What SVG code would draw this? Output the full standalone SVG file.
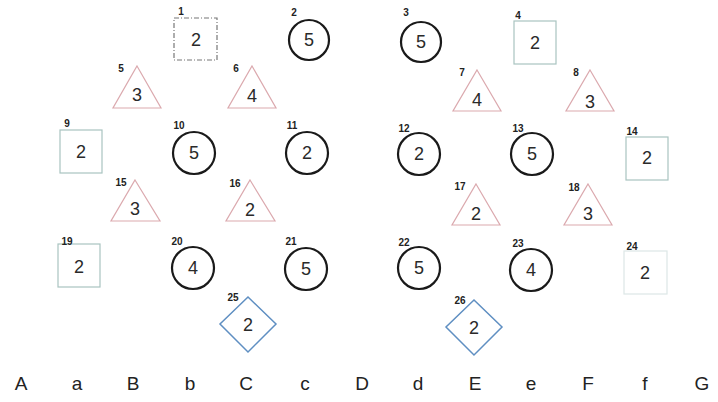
<svg xmlns="http://www.w3.org/2000/svg" width="718" height="402" viewBox="0 0 718 402">
<style>
.c{fill:none;stroke:#1a1a1a;stroke-width:2.2}
.s{fill:none;stroke:#a9c4c0;stroke-width:1.2}
.t{fill:none;stroke:#dba9ae;stroke-width:1.2}
.d{fill:none;stroke:#5f8fc2;stroke-width:1.5}
.v{font-family:"Liberation Sans",Arial,sans-serif;font-size:18px;fill:#2a2a2a;text-anchor:middle;dominant-baseline:central}
.l{font-family:"Liberation Sans",Arial,sans-serif;font-size:10px;font-weight:bold;fill:#222;text-anchor:middle}
.a{font-family:"Liberation Sans",Arial,sans-serif;font-size:19px;fill:#222;text-anchor:middle}
</style>
<rect width="718" height="402" fill="#fff"/>
<g id="connectors"/>
<g id="n1"><rect class="s" x="174" y="18" width="43" height="42" style="stroke:#777;stroke-dasharray:5,2,1,2"/><text class="v" x="196" y="40">2</text><text class="l" x="181" y="15">1</text></g>
<g id="n2"><circle class="c" cx="309" cy="40" r="20"/><text class="v" x="309" y="40">5</text><text class="l" x="294" y="16">2</text></g>
<g id="n3"><circle class="c" cx="421" cy="42" r="20"/><text class="v" x="421" y="42">5</text><text class="l" x="406" y="16">3</text></g>
<g id="n4"><rect class="s" x="514" y="21" width="42" height="43"/><text class="v" x="535" y="43">2</text><text class="l" x="518" y="19">4</text></g>
<g id="n5"><polygon class="t" points="137,66 161,108 113,108"/><text class="v" x="137" y="95">3</text><text class="l" x="121" y="72">5</text></g>
<g id="n6"><polygon class="t" points="252,66 276,108 228,108"/><text class="v" x="252" y="96">4</text><text class="l" x="236" y="72">6</text></g>
<g id="n7"><polygon class="t" points="477,70 501,111 453,111"/><text class="v" x="477" y="100">4</text><text class="l" x="462" y="76">7</text></g>
<g id="n8"><polygon class="t" points="590,70 614,111 566,111"/><text class="v" x="590" y="102">3</text><text class="l" x="576" y="76">8</text></g>
<g id="n9"><rect class="s" x="60" y="130" width="42" height="43"/><text class="v" x="81" y="152">2</text><text class="l" x="67" y="127">9</text></g>
<g id="n10"><circle class="c" cx="194" cy="153" r="21"/><text class="v" x="194" y="153">5</text><text class="l" x="179" y="129">10</text></g>
<g id="n11"><circle class="c" cx="307" cy="153" r="21"/><text class="v" x="307" y="153">2</text><text class="l" x="292" y="129">11</text></g>
<g id="n12"><circle class="c" cx="419" cy="154" r="21"/><text class="v" x="419" y="154">2</text><text class="l" x="404" y="132">12</text></g>
<g id="n13"><circle class="c" cx="532" cy="154" r="21"/><text class="v" x="532" y="154">5</text><text class="l" x="518" y="132">13</text></g>
<g id="n14"><rect class="s" x="626" y="137" width="42" height="43"/><text class="v" x="647" y="158">2</text><text class="l" x="632" y="135">14</text></g>
<g id="n15"><polygon class="t" points="135,180 160,221 111,221"/><text class="v" x="135" y="209">3</text><text class="l" x="121" y="186">15</text></g>
<g id="n16"><polygon class="t" points="250,180 275,221 226,221"/><text class="v" x="250" y="210">2</text><text class="l" x="235" y="187">16</text></g>
<g id="n17"><polygon class="t" points="476,184 500,225 452,225"/><text class="v" x="476" y="214">2</text><text class="l" x="460" y="190">17</text></g>
<g id="n18"><polygon class="t" points="588,184 612,225 564,225"/><text class="v" x="588" y="214">3</text><text class="l" x="574" y="191">18</text></g>
<g id="n19"><rect class="s" x="58" y="244" width="42" height="43"/><text class="v" x="79" y="267">2</text><text class="l" x="67" y="245">19</text></g>
<g id="n20"><circle class="c" cx="193" cy="268" r="21"/><text class="v" x="193" y="268">4</text><text class="l" x="177" y="245">20</text></g>
<g id="n21"><circle class="c" cx="306" cy="269" r="21"/><text class="v" x="306" y="269">5</text><text class="l" x="291" y="245">21</text></g>
<g id="n22"><circle class="c" cx="419" cy="268" r="21"/><text class="v" x="419" y="268">5</text><text class="l" x="404" y="246">22</text></g>
<g id="n23"><circle class="c" cx="531" cy="270" r="21"/><text class="v" x="531" y="270">4</text><text class="l" x="518" y="247">23</text></g>
<g id="n24"><rect class="s" x="624" y="251" width="43" height="43" style="stroke:#dde7e6"/><text class="v" x="645" y="273">2</text><text class="l" x="632" y="250">24</text></g>
<g id="n25"><polygon class="d" points="248,297 276,324 248,352 220,324"/><text class="v" x="248" y="325">2</text><text class="l" x="233" y="301">25</text></g>
<g id="n26"><polygon class="d" points="474,300 502,327 474,355 446,327"/><text class="v" x="474" y="328">2</text><text class="l" x="460" y="304">26</text></g>
<g id="axis">
<text class="a" x="21" y="390">A</text><text class="a" x="77" y="390">a</text><text class="a" x="133" y="390">B</text><text class="a" x="190" y="390">b</text><text class="a" x="246" y="390">C</text><text class="a" x="305" y="390">c</text><text class="a" x="362" y="390">D</text><text class="a" x="418" y="390">d</text><text class="a" x="475" y="390">E</text><text class="a" x="531" y="390">e</text><text class="a" x="588" y="390">F</text><text class="a" x="645" y="390">f</text><text class="a" x="702" y="390">G</text>
</g>
</svg>
